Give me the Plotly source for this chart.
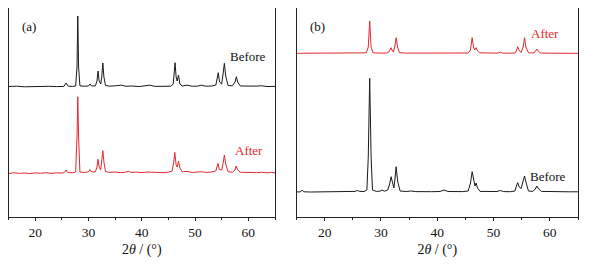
import plotly.graph_objects as go

# ---------------- Panel (a) ----------------
a_before_x = [15.0, 16.5, 18.0, 19.5, 21.0, 22.5, 24.0, 25.4, 25.8, 26.2, 27.0, 27.6, 27.85, 28.0, 28.15, 28.4,
              29.2, 30.0, 30.3, 30.6, 31.3, 31.6, 31.8, 32.0, 32.3, 32.5, 32.7, 32.9, 33.2, 34.0, 35.0, 36.2,
              37.0, 38.0, 39.5, 40.5, 41.5, 42.5, 44.0, 45.5, 45.9, 46.1, 46.25, 46.45, 46.65, 46.9, 47.15, 47.6,
              48.5, 49.5, 50.5, 51.2, 52.0, 53.2, 53.9, 54.2, 54.35, 54.6, 55.0, 55.3, 55.5, 55.75, 56.2, 57.0,
              57.5, 57.75, 58.0, 58.5, 59.5, 60.5, 61.5, 62.5, 63.5, 65.0]
a_before_y = [130.5, 130.8, 130.2, 130.6, 130.3, 130.7, 130.4, 130.6, 134.0, 130.8, 130.6, 131.0, 150.0, 201.0, 150.0, 131.2,
              130.8, 131.0, 133.0, 131.0, 131.2, 136.0, 146.0, 136.0, 133.0, 140.0, 154.0, 140.0, 131.5, 130.8, 131.2, 131.8,
              130.7, 131.0, 130.5, 130.8, 131.8, 130.6, 130.9, 130.8, 133.0, 145.0, 154.3, 140.0, 136.0, 142.0, 133.0, 131.0,
              131.8, 130.7, 130.9, 131.8, 130.8, 131.0, 132.0, 140.0, 144.3, 135.0, 133.0, 145.0, 153.7, 141.0, 131.5, 131.2,
              135.0, 140.3, 135.0, 131.0, 130.8, 130.6, 130.9, 131.2, 130.5, 130.6]

a_after_x = [15.0, 16.0, 17.0, 18.0, 19.0, 20.0, 21.0, 22.0, 23.0, 24.0, 25.0, 25.5, 25.8, 26.1, 27.0, 27.6, 27.85, 28.0,
             28.15, 28.4, 29.2, 30.0, 30.3, 30.6, 31.3, 31.6, 31.8, 32.0, 32.3, 32.5, 32.7, 32.9, 33.2, 34.0, 35.0, 36.0,
             37.0, 37.5, 38.0, 39.0, 40.0, 41.0, 42.0, 43.0, 44.0, 45.0, 45.7, 46.0, 46.2, 46.45, 46.65, 46.9, 47.15, 47.6,
             48.5, 49.5, 50.5, 51.2, 52.0, 53.0, 53.9, 54.15, 54.3, 54.55, 55.0, 55.3, 55.5, 55.75, 56.2, 57.0, 57.5, 57.7,
             58.0, 58.5, 59.5, 60.5, 61.5, 62.5, 63.5, 64.3, 65.0]
a_after_y = [43.5, 44.2, 43.6, 44.0, 43.4, 44.1, 43.7, 44.3, 43.6, 44.2, 44.0, 44.5, 47.0, 44.5, 44.2, 45.0, 80.0, 120.3,
             80.0, 45.0, 44.5, 45.2, 47.5, 45.0, 45.2, 50.0, 57.7, 50.0, 47.0, 55.0, 66.3, 55.0, 45.5, 44.6, 45.0, 44.4,
             44.8, 45.8, 44.6, 44.9, 44.3, 45.0, 44.6, 44.8, 44.3, 44.8, 46.0, 55.0, 64.7, 52.0, 50.0, 56.0, 49.0, 45.2,
             45.6, 44.5, 44.9, 45.3, 44.6, 44.9, 46.0, 51.0, 53.7, 47.5, 47.0, 55.0, 62.0, 53.0, 45.2, 44.8,
             47.0, 51.0, 47.0, 44.8, 44.5, 44.9, 44.3, 44.7, 44.2, 44.6, 44.1]

# ---------------- Panel (b) ----------------
b_after_x = [15.0, 17.0, 19.0, 21.0, 23.0, 25.0, 26.5, 27.4, 27.75, 28.0, 28.25, 28.6, 29.5, 31.0, 31.4, 31.65, 31.8,
             31.95, 32.2, 32.45, 32.7, 32.95, 33.3, 34.5, 37.0, 40.0, 43.0, 45.5, 45.9, 46.05, 46.2, 46.45, 46.65,
             46.9, 47.15, 47.5, 49.0, 50.8, 51.2, 51.6, 53.0, 53.9, 54.1, 54.3, 54.5, 54.9, 55.25, 55.5, 55.75, 56.2,
             57.2, 57.45, 57.7, 57.95, 58.3, 60.0, 62.0, 65.0]
b_after_y = [163.7, 163.7, 163.6, 163.7, 163.7, 163.8, 163.8, 164.2, 170.0, 196.0, 170.0, 164.2, 163.9, 164.0, 165.0, 167.0, 169.3,
             167.0, 165.0, 170.0, 179.3, 170.0, 164.3, 163.9, 163.8, 163.8, 163.7, 164.0, 167.0, 172.0, 179.3, 170.0, 167.0,
             169.3, 166.0, 164.2, 163.8, 163.9, 165.0, 163.9, 163.8, 164.2, 167.0, 170.3, 167.0, 164.5, 170.0, 179.3, 170.0, 164.3,
             164.0, 166.0, 168.0, 166.0, 164.0, 163.8, 163.7, 163.7]

b_before_x = [15.0, 15.7, 16.0, 16.3, 17.5, 19.0, 21.0, 23.0, 24.5, 25.4, 25.8, 26.2, 27.0, 27.5, 27.75, 28.0, 28.25,
              28.5, 29.2, 29.8, 30.2, 30.6, 31.2, 31.55, 31.8, 32.05, 32.3, 32.45, 32.7, 32.95, 33.4, 34.5, 35.3,
              36.2, 37.2, 38.0, 39.0, 40.5, 41.2, 41.9, 43.0, 44.5, 45.5, 45.9, 46.2, 46.5, 46.7, 46.9, 47.15,
              47.6, 49.0, 50.6, 51.2, 51.8, 53.0, 53.8, 54.05, 54.3, 54.55, 54.9, 55.25, 55.5, 55.75, 56.2, 57.0,
              57.4, 57.7, 58.0, 58.5, 60.0, 62.0, 63.5, 65.0]
b_before_y = [25.0, 25.2, 27.0, 25.2, 25.0, 25.1, 25.0, 25.2, 25.3, 25.6, 26.5, 25.6, 25.5, 27.0, 60.0, 138.7, 60.0,
              27.0, 25.6, 25.8, 27.0, 25.8, 27.0, 33.0, 40.3, 33.0, 29.0, 36.0, 50.3, 36.0, 26.0, 25.5, 26.0,
              25.4, 25.6, 25.7, 25.3, 25.5, 27.0, 25.5, 25.3, 25.4, 26.0, 34.0, 45.3, 34.0, 31.0, 34.0, 29.0,
              25.6, 25.4, 25.5, 26.5, 25.4, 25.3, 26.0, 31.0, 34.3, 30.0, 28.5, 36.0, 41.0, 35.0, 26.0, 25.6,
              28.0, 31.0, 28.0, 25.6, 25.3, 25.5, 25.2, 25.2]

x_ticks = [20, 30, 40, 50, 60]
red = "#e3282e"
black = "#1a1a1a"

fig = go.Figure()
fig.add_trace(go.Scatter(x=a_before_x, y=a_before_y, mode="lines", line=dict(color=black, width=1), xaxis="x", yaxis="y"))
fig.add_trace(go.Scatter(x=a_after_x, y=a_after_y, mode="lines", line=dict(color=red, width=1), xaxis="x", yaxis="y"))
fig.add_trace(go.Scatter(x=b_after_x, y=b_after_y, mode="lines", line=dict(color=red, width=1), xaxis="x2", yaxis="y2"))
fig.add_trace(go.Scatter(x=b_before_x, y=b_before_y, mode="lines", line=dict(color=black, width=1), xaxis="x2", yaxis="y2"))

font_family = "Liberation Serif"
xcommon = dict(range=[15, 65], tickvals=x_ticks, ticks="outside", ticklen=3, tickwidth=1, tickcolor="#222",
               showline=True, linecolor="#222", linewidth=1, mirror=True, showgrid=False, zeroline=False,
               automargin=False,
               minor=dict(dtick=5, tick0=15, ticks="outside", ticklen=2, tickcolor="#222"),
               tickfont=dict(family=font_family, size=13.5, color="#111"),
               title=dict(text="2<i>θ</i> / (°)", font=dict(family=font_family, size=14, color="#111"), standoff=4))
ycommon = dict(showticklabels=False, ticks="", showline=True, linecolor="#222", linewidth=1, mirror=True,
               showgrid=False, zeroline=False, automargin=False)

# page body has an 8 px margin; figure pixel = reference pixel - 8
W, H = 585, 252
fig.update_layout(
    width=W, height=H, margin=dict(l=0, r=0, t=0, b=0), showlegend=False,
    plot_bgcolor="white", paper_bgcolor="white",
    xaxis=dict(domain=[0.5 / W, 267 / W], anchor="y", **xcommon),
    yaxis=dict(domain=[1 - 209 / H, 1.0], range=[0, 209], anchor="x", **ycommon),
    xaxis2=dict(domain=[288.5 / W, 570 / W], anchor="y2", **xcommon),
    yaxis2=dict(domain=[1 - 209 / H, 1.0], range=[0, 209], anchor="x2", **ycommon),
)

ann = [
    dict(text="(a)", x=18.9, y=190.3, xref="x", yref="y", color="#111"),
    dict(text="Before", x=60.0, y=160.3, xref="x", yref="y", color="#111"),
    dict(text="After", x=60.2, y=66.3, xref="x", yref="y", color=red),
    dict(text="(b)", x=18.8, y=190.3, xref="x2", yref="y2", color="#111"),
    dict(text="After", x=59.15, y=183.7, xref="x2", yref="y2", color=red),
    dict(text="Before", x=59.6, y=40.3, xref="x2", yref="y2", color="#111"),
]
for a in ann:
    fig.add_annotation(text=a["text"], x=a["x"], y=a["y"], xref=a["xref"], yref=a["yref"], showarrow=False,
                       font=dict(family=font_family, size=13, color=a["color"]))

fig.write_html("out.html")
